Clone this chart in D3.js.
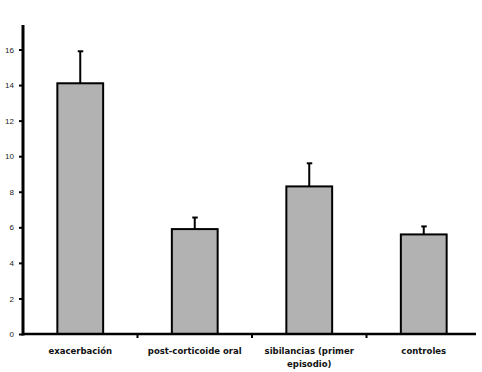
<!DOCTYPE html>
<html>
<head>
<meta charset="utf-8">
<script src="https://cdn.jsdelivr.net/npm/d3@7"></script>
<style>
  body { margin: 0; background: #fff; }
</style>
</head>
<body>
<div id="chart"></div>
<script>
const categories = ["exacerbación", "post-corticoide oral", "sibilancias (primer episodio)", "controles"];
const means = [14.1, 5.9, 8.3, 5.6];
const errors = [1.8, 0.65, 1.3, 0.45];
const yTicks = [0, 2, 4, 6, 8, 10, 12, 14, 16];

const W = 482, H = 372;
const margin = { top: 25, right: 6, bottom: 38, left: 23 };

const svg = d3.select("#chart").append("svg")
    .attr("width", W)
    .attr("height", H);

const x = d3.scaleBand()
    .domain(categories)
    .range([margin.left, 481])
    .paddingInner(0.6)
    .paddingOuter(0.3);

const y = d3.scaleLinear()
    .domain([0, 16])
    .range([334, 49.5]);

// bars
svg.selectAll("rect.bar")
    .data(categories)
    .join("rect")
    .attr("class", "bar")
    .attr("x", d => x(d))
    .attr("y", (d, i) => y(means[i]))
    .attr("width", x.bandwidth())
    .attr("height", (d, i) => y(0) - y(means[i]))
    .attr("fill", "#b2b2b2")
    .attr("stroke", "#000")
    .attr("stroke-width", 2);

// error bars
const eb = svg.append("g").attr("stroke", "#000").attr("stroke-width", 2);
categories.forEach((c, i) => {
    const cx = x(c) + x.bandwidth() / 2;
    eb.append("line")
        .attr("x1", cx).attr("x2", cx)
        .attr("y1", y(means[i])).attr("y2", y(means[i] + errors[i]));
    eb.append("line")
        .attr("x1", cx - 2.5).attr("x2", cx + 3)
        .attr("y1", y(means[i] + errors[i])).attr("y2", y(means[i] + errors[i]));
});

// y axis
const yAxis = svg.append("g")
    .attr("transform", `translate(${margin.left},0)`)
    .call(d3.axisLeft(y).tickValues(yTicks).tickSize(4).tickSizeOuter(0).tickPadding(5));
yAxis.select(".domain").remove();
yAxis.selectAll(".tick line").attr("stroke-width", 2);
yAxis.selectAll("text")
    .attr("font-family", "Arial, 'Liberation Sans', sans-serif")
    .attr("font-size", 8)
    .attr("fill", "#222");
svg.append("line")
    .attr("x1", margin.left).attr("x2", margin.left)
    .attr("y1", margin.top).attr("y2", y(0) + 1.5)
    .attr("stroke", "#000").attr("stroke-width", 3);

// x axis
const xAxis = svg.append("g")
    .attr("transform", `translate(0,${y(0)})`);
xAxis.append("line")
    .attr("x1", margin.left).attr("x2", 476)
    .attr("stroke", "#000").attr("stroke-width", 2.5);
const step = x.step();
xAxis.selectAll("line.sep")
    .data(categories.slice(1))
    .join("line")
    .attr("class", "sep")
    .attr("x1", d => x(d) - (step - x.bandwidth()) / 2)
    .attr("x2", d => x(d) - (step - x.bandwidth()) / 2)
    .attr("y1", 0).attr("y2", 4)
    .attr("stroke", "#000").attr("stroke-width", 2);

const labels = [["exacerbación"], ["post-corticoide oral"], ["sibilancias (primer", "episodio)"], ["controles"]];
const lab = xAxis.selectAll("text")
    .data(categories)
    .join("text")
    .attr("x", d => x(d) + x.bandwidth() / 2)
    .attr("y", 20)
    .attr("text-anchor", "middle")
    .attr("font-family", "'DejaVu Sans', Verdana, sans-serif")
    .attr("font-weight", "bold")
    .attr("font-size", 8.5)
    .attr("fill", "#111");
lab.each(function (d, i) {
    const t = d3.select(this);
    labels[i].forEach((s, k) => {
        t.append("tspan")
            .attr("x", x(d) + x.bandwidth() / 2)
            .attr("dy", k === 0 ? 0 : 12.5)
            .text(s);
    });
});
</script>
</body>
</html>
